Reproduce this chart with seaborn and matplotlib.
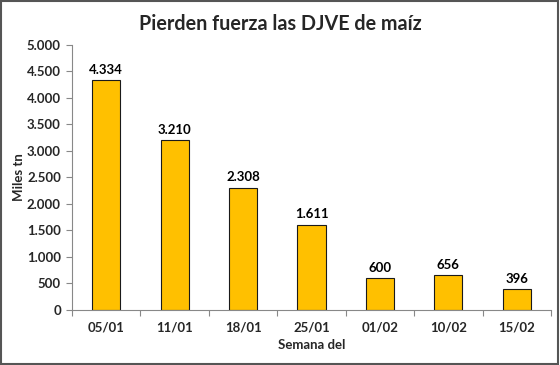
import matplotlib
matplotlib.use("Agg")
import matplotlib.pyplot as plt
import seaborn as sns
import pandas as pd
from matplotlib.ticker import FuncFormatter, FixedLocator, NullFormatter
from matplotlib.patches import Rectangle

semanas = ["05/01", "11/01", "18/01", "25/01", "01/02", "10/02", "15/02"]
valores = [4334, 3210, 2308, 1611, 600, 656, 396]

sns.set_theme(style="white")
plt.rcParams['font.family'] = ['Lato', 'DejaVu Sans']
plt.rcParams['font.weight'] = 'bold'

df = pd.DataFrame({"semana": semanas, "valor": valores})

fig = plt.figure(figsize=(5.6, 3.65), dpi=100)
ax = fig.add_axes([0.1286, 0.1507, 0.8554, 0.7263])

sns.barplot(data=df, x="semana", y="valor", color="#FFC000", width=0.41,
            edgecolor="#1a1a1a", linewidth=0.8, ax=ax, saturation=1)

def fmt(v, pos):
    return f"{int(v):,}".replace(",", ".")

ax.set_ylim(0, 5000)
ax.set_xlim(-0.5, len(semanas) - 0.5)
ax.set_yticks(range(0, 5001, 500))
ax.yaxis.set_major_formatter(FuncFormatter(fmt))

for i, v in enumerate(valores):
    ax.text(i, v + 80, fmt(v, None), ha="center", va="bottom", fontsize=9.5, fontweight="bold", color="black")

# x ticks at category boundaries
ax.xaxis.set_minor_locator(FixedLocator([i - 0.5 for i in range(len(semanas) + 1)]))
ax.xaxis.set_minor_formatter(NullFormatter())
ax.tick_params(axis="x", which="major", length=0, pad=8, labelsize=9.5)
ax.tick_params(axis="x", which="minor", length=4, color="#888888", width=0.8, direction="out", bottom=True)
ax.tick_params(axis="y", which="major", length=4, color="#888888", width=0.8, direction="out", left=True, labelsize=9.5, pad=4)
for lab in ax.get_xticklabels() + ax.get_yticklabels():
    lab.set_fontweight("bold")

for s in ["top", "right"]:
    ax.spines[s].set_visible(False)
for s in ["left", "bottom"]:
    ax.spines[s].set_color("#888888")
    ax.spines[s].set_linewidth(0.8)

ax.set_xlabel("Semana del", fontsize=9.5, fontweight="bold", labelpad=4)
ax.set_ylabel("Miles tn", fontsize=9.5, fontweight="bold", labelpad=1)
fig.text(0.5, 0.935, "Pierden fuerza las DJVE de maíz", fontsize=14.2, fontweight="bold",
         ha="center", va="center")

fig.patches.append(Rectangle((0.002, 0.003), 0.995, 0.994, transform=fig.transFigure,
                             fill=False, edgecolor="#555555", linewidth=1.5))

fig.savefig("out.png", dpi=100)
